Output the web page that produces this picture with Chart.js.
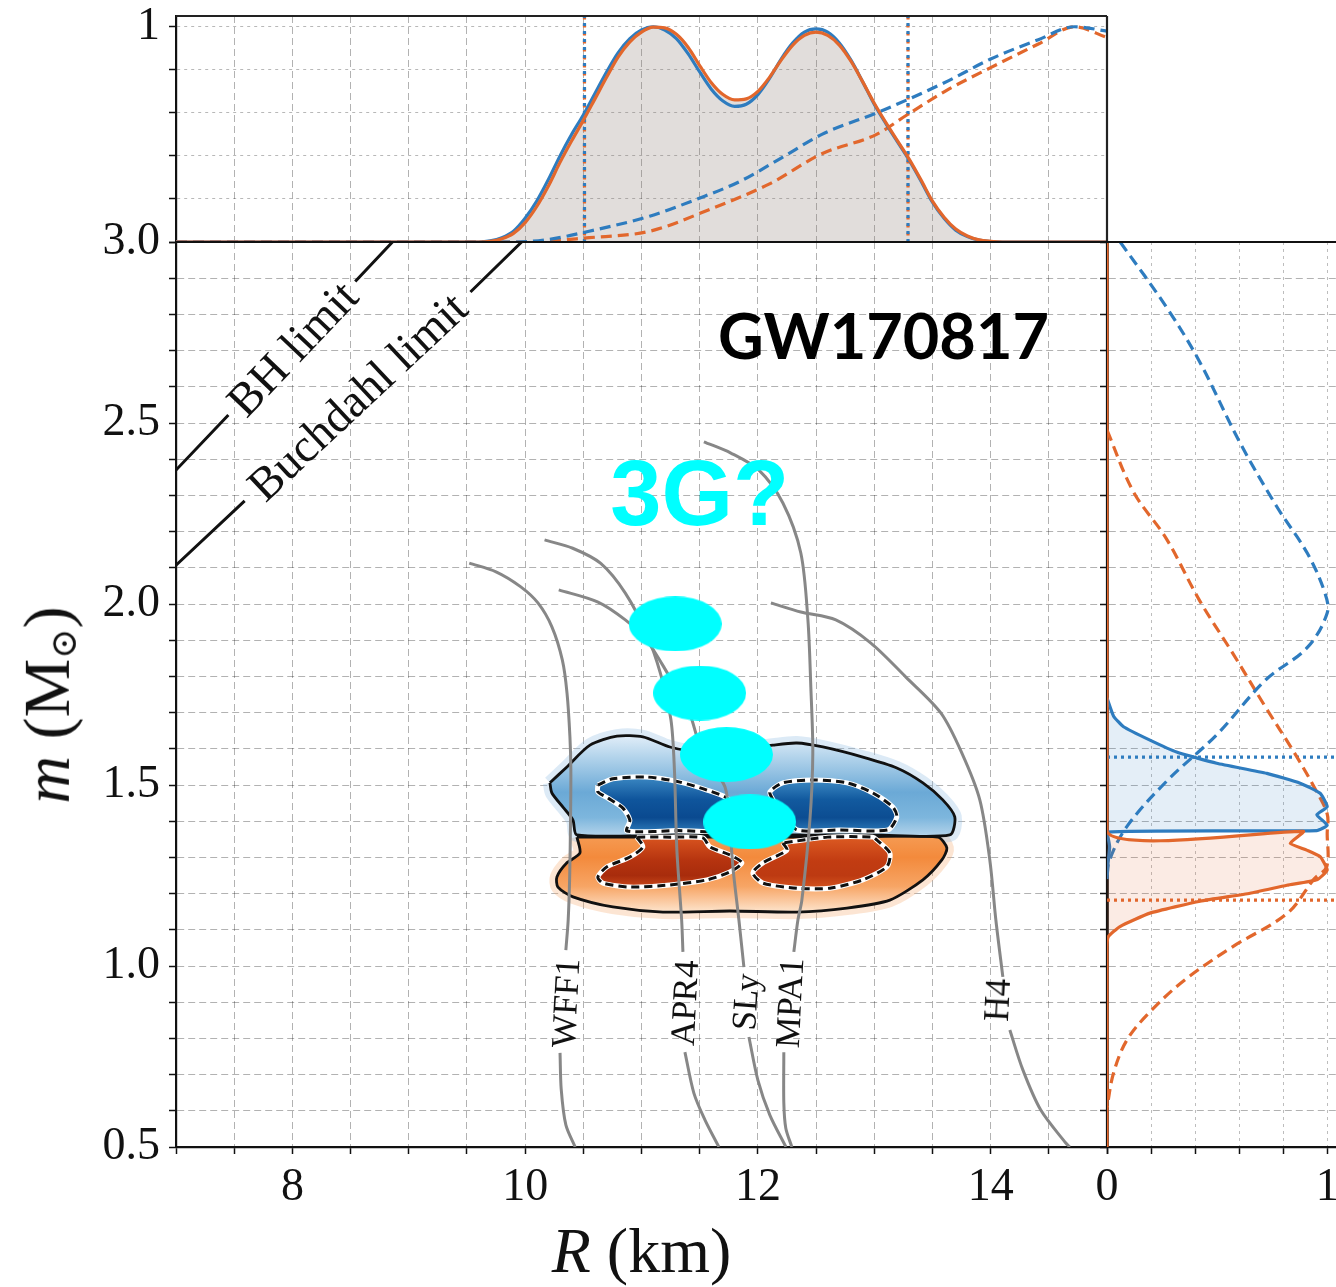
<!DOCTYPE html>
<html lang="en">
<head>
<meta charset="utf-8">
<title>GW170817 mass-radius</title>
<script src="https://cdn.jsdelivr.net/npm/chart.js@4.4.1/dist/chart.umd.min.js"></script>
<style>
  html, body { margin: 0; padding: 0; background: #fff; }
  #wrap { position: relative; width: 1336px; height: 1287px; overflow: hidden; background: #fff; }
  #wrap canvas { position: absolute; left: 0; top: 0; }
  .note { position: absolute; white-space: nowrap; line-height: 1; transform-origin: 50% 50%; color: #111; }
</style>
</head>
<body>
<div id="wrap">
  <canvas id="topPanel" width="1336" height="1287"></canvas>
  <canvas id="mainPanel" width="1336" height="1287"></canvas>
  <canvas id="sidePanel" width="1336" height="1287"></canvas>
</div>
<script>
// ---------- values ----------

// top panel: radius marginal, R in km, curves normalised to 1
var topR = [7.0, 9.6, 9.7, 9.8, 9.9, 10.0, 10.1, 10.2, 10.3, 10.4, 10.5, 10.6, 10.7, 10.8, 10.9,
  11.0, 11.1, 11.2, 11.3, 11.4, 11.5, 11.6, 11.7, 11.8, 11.9, 12.0, 12.1, 12.2, 12.3, 12.4,
  12.5, 12.6, 12.7, 12.8, 12.9, 13.0, 13.1, 13.2, 13.3, 13.4, 13.5, 13.6, 13.7, 13.8, 13.9,
  14.0, 14.1, 14.2, 15.0];
var topBlue = [0, 0, 0.005, 0.02, 0.05, 0.11, 0.19, 0.29, 0.40, 0.50, 0.59, 0.69, 0.79, 0.88, 0.945,
  0.985, 1.0, 0.985, 0.945, 0.875, 0.79, 0.71, 0.655, 0.63, 0.64, 0.685, 0.76, 0.85, 0.925, 0.975,
  0.99, 0.975, 0.925, 0.845, 0.745, 0.64, 0.55, 0.465, 0.38, 0.285, 0.185, 0.11, 0.055, 0.025, 0.009,
  0.002, 0, 0, 0];
var topOrange = [0, 0, 0.003, 0.015, 0.04, 0.09, 0.165, 0.26, 0.37, 0.47, 0.565, 0.665, 0.765, 0.86, 0.93,
  0.975, 0.998, 0.995, 0.965, 0.905, 0.82, 0.74, 0.685, 0.66, 0.665, 0.70, 0.765, 0.845, 0.915, 0.96,
  0.975, 0.96, 0.915, 0.84, 0.745, 0.645, 0.555, 0.47, 0.385, 0.29, 0.19, 0.115, 0.06, 0.028, 0.01,
  0.003, 0, 0, 0];
// dashed curves of the top panel, [R, value]
var topPriorBlue = [[7.0, 0], [9.9, 0], [10.2, 0.012], [10.55, 0.05], [11.07, 0.12], [11.48, 0.2],
  [11.84, 0.28], [12.2, 0.39], [12.55, 0.5], [13.02, 0.6], [13.28, 0.66], [13.64, 0.75],
  [14.0, 0.85], [14.41, 0.94], [14.72, 1.0], [15.0, 0.98]];
var topPriorOrange = [[7.0, 0], [10.0, 0], [10.55, 0.02], [11.07, 0.05], [11.58, 0.15], [12.1, 0.27],
  [12.55, 0.41], [13.02, 0.5], [13.28, 0.59], [13.64, 0.71], [14.0, 0.81], [14.41, 0.92],
  [14.72, 1.0], [15.0, 0.95]];
// dotted bounds in R
var topBounds = [10.51, 13.29];

// side panel: mass marginal, [value, m in solar masses]
var sideBlue = [[0, 1.74], [0.03, 1.69], [0.075, 1.661], [0.195, 1.624], [0.316, 1.591], [0.498, 1.56],
  [0.726, 1.532], [0.877, 1.505], [0.968, 1.477], [1.0, 1.44], [0.953, 1.418], [1.0, 1.389],
  [0.953, 1.374], [0, 1.37], [0.012, 1.33], [0.004, 1.28], [0, 1.24]];
var sideOrange = [[0, 3.0], [0, 1.372], [0.892, 1.372], [0.832, 1.339], [0.907, 1.32], [0.968, 1.302],
  [1.0, 1.265], [0.953, 1.238], [0.817, 1.223], [0.65, 1.201], [0.423, 1.179], [0.195, 1.146],
  [0.059, 1.109], [0.006, 1.081], [0, 1.05], [0, 0.5]];
var sidePriorBlue = [[0.06, 3.0], [0.27, 2.82], [0.42, 2.67], [0.6, 2.45], [0.77, 2.27], [0.91, 2.14],
  [0.99, 2.03], [1.0, 1.975], [0.91, 1.88], [0.72, 1.79], [0.5, 1.64], [0.27, 1.51], [0.09, 1.385],
  [0.01, 1.29], [0, 1.24]];
var sidePriorOrange = [[0, 2.48], [0.12, 2.31], [0.27, 2.18], [0.42, 2.01], [0.57, 1.865], [0.72, 1.715],
  [0.85, 1.59], [0.94, 1.495], [1.0, 1.42], [1.0, 1.367], [0.998, 1.275], [0.94, 1.24], [0.82, 1.146],
  [0.57, 1.053], [0.35, 0.96], [0.19, 0.87], [0.09, 0.795], [0.03, 0.705], [0, 0.61]];
var sideBoundBlue = 1.577;
var sideBoundOrange = 1.182;

// main panel: EOS mass-radius curves [R, m]; null leaves room for the name
var eosWFF1 = [[9.52, 2.113], [9.75, 2.089], [9.96, 2.048], [10.11, 2.003], [10.23, 1.937], [10.32, 1.845],
  [10.36, 1.754], [10.385, 1.633], [10.393, 1.541], [10.39, 1.40], [10.383, 1.25], [10.37, 1.127],
  [10.35, 1.044], null, [10.30, 0.76], [10.31, 0.66], [10.35, 0.561], [10.43, 0.5]];
var eosAPR4 = [[10.167, 2.177], [10.409, 2.154], [10.65, 2.112], [10.861, 2.03], [11.042, 1.919],
  [11.162, 1.809], [11.253, 1.68], [11.283, 1.541], [11.304, 1.32], [11.345, 1.127], [11.356, 1.039],
  null, [11.373, 0.762], [11.45, 0.649], [11.545, 0.575], [11.665, 0.5]];
var eosSLy = [[10.289, 2.039], [10.622, 2.006], [10.861, 1.956], [11.042, 1.901], [11.223, 1.809],
  [11.404, 1.707], [11.524, 1.588], [11.717, 1.495], [11.76, 1.376], [11.788, 1.265], [11.837, 1.127],
  [11.88, 0.997], null, [11.923, 0.804], [12.0, 0.685], [12.103, 0.588], [12.241, 0.5]];
var eosMPA1 = [[11.536, 2.448], [11.768, 2.417], [12.009, 2.37], [12.215, 2.279], [12.369, 2.141],
  [12.43, 1.956], [12.455, 1.771], [12.472, 1.588], [12.447, 1.403], [12.378, 1.182], [12.344, 1.127],
  [12.309, 1.039], null, [12.223, 0.762], [12.223, 0.622], [12.24, 0.552], [12.292, 0.5]];
var eosH4 = [[12.112, 2.003], [12.369, 1.978], [12.67, 1.956], [12.971, 1.892], [13.272, 1.798],
  [13.572, 1.699], [13.753, 1.588], [13.907, 1.459], [13.993, 1.293], [14.045, 1.127], [14.105, 0.97],
  null, [14.165, 0.823], [14.277, 0.713], [14.431, 0.602], [14.646, 0.511], [14.68, 0.5]];
var bhLimit = [[7.0, 2.370], [7.45, 2.522], null, [8.54, 2.891], [8.86, 3.0]];
var buchdahlLimit = [[7.0, 2.107], [7.59, 2.285], null, [9.53, 2.862], [9.97, 3.0]];

// posterior contours [R, m]
var blueOuter = [[10.213, 1.506], [10.359, 1.55], [10.557, 1.61], [10.789, 1.635], [11.012, 1.633],
  [11.244, 1.605], [11.502, 1.591], [11.845, 1.597], [12.129, 1.61], [12.335, 1.616], [12.558, 1.605],
  [12.902, 1.577], [13.194, 1.547], [13.418, 1.506], [13.589, 1.459], [13.692, 1.412], [13.649, 1.362],
  [13.0, 1.362], [12.0, 1.362], [11.2, 1.362], [10.445, 1.362], [10.411, 1.403], [10.325, 1.439],
  [10.23, 1.478]];
var blueInnerL = [[10.625, 1.5], [10.754, 1.517], [11.046, 1.522], [11.33, 1.508], [11.562, 1.486],
  [11.734, 1.464], [11.82, 1.431], [11.785, 1.376], [11.3, 1.374], [10.875, 1.373], [10.9, 1.403],
  [10.84, 1.436], [10.711, 1.464], [10.625, 1.481]];
var blueInnerR = [[12.129, 1.459], [12.103, 1.481], [12.215, 1.506], [12.472, 1.514], [12.765, 1.506],
  [12.988, 1.478], [13.16, 1.439], [13.194, 1.412], [13.117, 1.376], [12.7, 1.376], [12.335, 1.376],
  [12.215, 1.423]];
var orangeOuter = [[10.445, 1.356], [10.471, 1.312], [10.359, 1.285], [10.273, 1.246], [10.282, 1.218],
  [10.411, 1.191], [10.754, 1.163], [11.184, 1.149], [11.759, 1.152], [12.335, 1.149], [12.765, 1.16],
  [13.134, 1.182], [13.418, 1.238], [13.581, 1.293], [13.624, 1.326], [13.546, 1.356], [12.8, 1.356],
  [12.0, 1.356], [11.2, 1.356]];
var orangeInnerL = [[10.96, 1.356], [11.012, 1.329], [10.9, 1.301], [10.703, 1.274], [10.625, 1.246],
  [10.668, 1.229], [10.9, 1.218], [11.244, 1.224], [11.562, 1.238], [11.759, 1.26], [11.863, 1.285],
  [11.759, 1.307], [11.588, 1.329], [11.527, 1.354], [11.25, 1.356]];
var orangeInnerR = [[12.215, 1.34], [12.249, 1.32], [12.043, 1.285], [11.957, 1.257], [12.043, 1.229],
  [12.335, 1.215], [12.619, 1.215], [12.902, 1.238], [13.108, 1.274], [13.134, 1.312], [13.022, 1.348],
  [12.988, 1.356], [12.6, 1.356]];

// cyan markers
var markerR = [11.29, 11.50, 11.73, 11.93];
var markerM = [1.945, 1.754, 1.584, 1.398];

// labelled ticks
var rTickLabels = [8, 10, 12, 14];
var topTickLabels = [1];
var sideTickLabels = [0, 1];

// ---------- styling ----------
var serif = "'Liberation Serif', 'DejaVu Serif', serif";
var ink = '#111111';
var blue = '#2e7cbf';
var orange = '#e2672c';
var eosGrey = '#878787';
var tickFont = { family: serif, size: 46 };
var gridCol = 'rgba(0,0,0,0.3)';
var lw = 3.2;

Chart.defaults.font.family = serif;
Chart.defaults.color = ink;

function xy(list) {
  return list.map(function (p, i) {
    if (p === null) return { x: list[i - 1][0], y: null };
    return { x: p[0], y: p[1] };
  });
}
function ring(list) { return xy(list.concat([list[0]])); }
function isIn(labels) {
  return function (v) {
    for (var i = 0; i < labels.length; i++) if (Math.abs(v - labels[i]) < 1e-6) return String(labels[i]);
    return '';
  };
}
function fixAxis(size, horizontal) {
  return function (s) {
    if (horizontal) { s.height = size; s.paddingLeft = 0; s.paddingRight = 0; }
    else { s.width = size; s.paddingTop = 0; s.paddingBottom = 0; }
  };
}
function verticalGradient(stops) {
  return function (context) {
    var chart = context.chart;
    if (!chart.chartArea) return stops[0][1];
    var sy = chart.scales.y;
    var y0 = sy.getPixelForValue(stops[0][0]);
    var y1 = sy.getPixelForValue(stops[stops.length - 1][0]);
    var g = chart.ctx.createLinearGradient(0, y0, 0, y1);
    stops.forEach(function (s) {
      var t = (sy.getPixelForValue(s[0]) - y0) / (y1 - y0);
      g.addColorStop(Math.min(1, Math.max(0, t)), s[1]);
    });
    return g;
  };
}
function line(data, color, width, dash, order, extra) {
  var ds = { data: data, borderColor: color, borderWidth: width, borderDash: dash || [],
    pointRadius: 0, fill: false, tension: 0.3, order: order };
  return Object.assign(ds, extra || {});
}
function ellipseCanvas(w, h, color) {
  var c = document.createElement('canvas');
  c.width = w; c.height = h;
  var g = c.getContext('2d');
  g.fillStyle = color;
  g.beginPath();
  g.ellipse(w / 2, h / 2, w / 2, h / 2, 0, 0, Math.PI * 2);
  g.fill();
  return c;
}

// frame lines on the chart area edges not covered by an axis
var framePlugin = {
  id: 'frame',
  afterDraw: function (chart, args, opts) {
    var a = chart.chartArea, ctx = chart.ctx;
    ctx.save();
    ctx.strokeStyle = opts.color || ink;
    ctx.lineWidth = opts.width || 2.2;
    ctx.beginPath();
    if (opts.top) { ctx.moveTo(a.left, a.top); ctx.lineTo(a.right, a.top); }
    if (opts.right) { ctx.moveTo(a.right, a.top); ctx.lineTo(a.right, a.bottom); }
    ctx.stroke();
    ctx.restore();
  }
};

var baseOptions = {
  responsive: false,
  animation: false,
  events: [],
  plugins: { legend: { display: false }, tooltip: { enabled: false } }
};

// ---------- top panel ----------
var topSets = [
  line(topR.map(function (r, i) { return { x: r, y: topOrange[i] }; }), 'rgba(0,0,0,0)', 0, [], 9,
    { fill: 'origin', backgroundColor: 'rgba(140,125,115,0.26)', cubicInterpolationMode: 'monotone' }),
  line(topR.map(function (r, i) { return { x: r, y: topBlue[i] }; }), blue, lw, [], 3,
    { cubicInterpolationMode: 'monotone' }),
  line(topR.map(function (r, i) { return { x: r, y: topOrange[i] }; }), orange, lw, [], 2,
    { cubicInterpolationMode: 'monotone' }),
  line(xy(topPriorBlue), blue, lw, [11, 6], 4, { cubicInterpolationMode: 'monotone' }),
  line(xy(topPriorOrange), orange, lw, [11, 6], 4, { cubicInterpolationMode: 'monotone' })
];
topBounds.forEach(function (r) {
  topSets.push(line([{ x: r, y: 0 }, { x: r, y: 1.05 }], blue, lw, [3, 5], 5, { tension: 0 }));
  topSets.push(line([{ x: r, y: 0 }, { x: r, y: 1.05 }], orange, lw, [3, 5], 5, { tension: 0, borderDashOffset: 1.5 }));
});

var topChart = new Chart(document.getElementById('topPanel'), {
  type: 'line',
  data: { datasets: topSets },
  options: Object.assign({}, baseOptions, {
    layout: { padding: { left: 0, top: 16, right: 229, bottom: 1045 } },
    plugins: Object.assign({}, baseOptions.plugins, { frame: { top: true, right: true, color: '#222' } }),
    scales: {
      x: {
        type: 'linear', min: 7, max: 15,
        afterFit: fixAxis(0, true),
        ticks: { display: false, stepSize: 0.5, autoSkip: false },
        grid: { color: gridCol, drawTicks: false },
        border: { display: false, dash: [7, 4] }
      },
      y: {
        type: 'linear', min: 0, max: 1.05,
        afterFit: fixAxis(176, false),
        ticks: { stepSize: 0.2, includeBounds: false, autoSkip: false, padding: 9, font: tickFont,
          color: ink, callback: isIn(topTickLabels) },
        grid: { color: 'rgba(0,0,0,0.28)', tickLength: 7, tickColor: ink, tickWidth: 1.5 },
        border: { color: ink, width: 2.2, dash: [3, 4] }
      }
    }
  }),
  plugins: [framePlugin]
});

// ---------- main panel ----------
var markerImg = ellipseCanvas(93, 55, '#00ffff');
var mainSets = [
  line(ring(blueOuter), 'rgba(140,185,225,0.3)', 14, [], 20),
  line(ring(orangeOuter), 'rgba(246,170,110,0.3)', 14, [], 20),
  line(ring(blueOuter), ink, 2.8, [], 19, { fill: 'shape', tension: 0.25, backgroundColor: verticalGradient([
    [1.64, '#e4eff9'], [1.58, '#b5d5ec'], [1.48, '#6ba9d6'], [1.41, '#7db6dd'], [1.36, '#b3d3ea']]) }),
  line(ring(orangeOuter), ink, 2.8, [], 19, { fill: 'shape', tension: 0.25, backgroundColor: verticalGradient([
    [1.357, '#f59a52'], [1.30, '#f38a3c'], [1.22, '#f7a565'], [1.15, '#fde3cb']]) })
];
[[blueInnerL, [[1.525, '#3d8ac4'], [1.46, '#0f559c'], [1.41, '#0a4a90'], [1.37, '#2c79b8']]],
 [blueInnerR, [[1.515, '#3d8ac4'], [1.46, '#125a9f'], [1.41, '#0c4d92'], [1.37, '#2c79b8']]],
 [orangeInnerL, [[1.356, '#d8541f'], [1.29, '#b5330f'], [1.25, '#a82c0c'], [1.215, '#cc4a1c']]],
 [orangeInnerR, [[1.356, '#dc5a22'], [1.29, '#c23c12'], [1.25, '#bd3a12'], [1.215, '#d4531e']]]
].forEach(function (c) {
  mainSets.push(line(ring(c[0]), '#ffffff', 5, [], 18,
    { fill: 'shape', tension: 0.25, backgroundColor: verticalGradient(c[1]) }));
  mainSets.push(line(ring(c[0]), ink, 3, [8, 5], 17, { tension: 0.25 }));
});
[eosWFF1, eosAPR4, eosSLy, eosMPA1, eosH4].forEach(function (c) {
  mainSets.push(line(xy(c), eosGrey, 3, [], 10));
});
mainSets.push(line(xy(bhLimit), ink, 3, [], 10, { tension: 0 }));
mainSets.push(line(xy(buchdahlLimit), ink, 3, [], 10, { tension: 0 }));
mainSets.push({
  data: markerR.map(function (r, i) { return { x: r, y: markerM[i] }; }),
  showLine: false, pointStyle: markerImg, pointRadius: 12, order: 0
});

var mainChart = new Chart(document.getElementById('mainPanel'), {
  type: 'line',
  data: { datasets: mainSets },
  options: Object.assign({}, baseOptions, {
    layout: { padding: { left: 0, top: 242, right: 229, bottom: 0 } },
    plugins: Object.assign({}, baseOptions.plugins, { frame: { top: true, right: true } }),
    scales: {
      x: {
        type: 'linear', min: 7, max: 15,
        afterFit: fixAxis(140, true),
        ticks: { stepSize: 0.5, autoSkip: false, maxRotation: 0, minRotation: 0, padding: 6,
          font: tickFont, color: ink, callback: isIn(rTickLabels) },
        grid: { color: gridCol, tickLength: 7, tickColor: ink, tickWidth: 1.5 },
        border: { color: ink, width: 2.2, dash: [7, 4] }
      },
      y: {
        type: 'linear', min: 0.5, max: 3.0,
        afterFit: fixAxis(176, false),
        ticks: { stepSize: 0.1, autoSkip: false, padding: 9, font: tickFont, color: ink,
          callback: function (v) { return Math.abs(v * 2 - Math.round(v * 2)) < 1e-6 ? v.toFixed(1) : ''; } },
        grid: { color: gridCol, tickLength: 7, tickColor: ink, tickWidth: 1.5 },
        border: { color: ink, width: 2.2, dash: [7, 4] }
      }
    }
  }),
  plugins: [framePlugin]
});

// ---------- side panel ----------
var sideSets = [
  line(xy(sideBlue), blue, lw, [], 3, { fill: 'shape', backgroundColor: 'rgba(46,124,191,0.13)', tension: 0.15 }),
  line(xy(sideOrange), orange, lw, [], 2, { fill: 'shape', backgroundColor: 'rgba(226,103,44,0.13)', tension: 0.15 }),
  line(xy(sidePriorBlue), blue, lw, [11, 6], 4, { tension: 0.35 }),
  line(xy(sidePriorOrange), orange, lw, [11, 6], 4, { tension: 0.35 }),
  line([{ x: 0, y: sideBoundBlue }, { x: 1.04, y: sideBoundBlue }], blue, lw, [3, 4], 5, { tension: 0 }),
  line([{ x: 0, y: sideBoundOrange }, { x: 1.04, y: sideBoundOrange }], orange, lw, [3, 4], 5, { tension: 0 })
];

var sideChart = new Chart(document.getElementById('sidePanel'), {
  type: 'line',
  data: { datasets: sideSets },
  options: Object.assign({}, baseOptions, {
    layout: { padding: { left: 1107, top: 242, right: 0, bottom: 0 } },
    plugins: Object.assign({}, baseOptions.plugins, { frame: { top: true } }),
    scales: {
      x: {
        type: 'linear', min: 0, max: 1.04,
        afterFit: fixAxis(140, true),
        ticks: { stepSize: 0.2, includeBounds: false, autoSkip: false, maxRotation: 0, minRotation: 0,
          padding: 6, font: tickFont, color: ink, callback: isIn(sideTickLabels) },
        grid: { color: 'rgba(0,0,0,0.26)', tickLength: 7, tickColor: ink, tickWidth: 1.5 },
        border: { color: ink, width: 2.2, dash: [3, 4] }
      },
      y: {
        type: 'linear', min: 0.5, max: 3.0,
        afterFit: fixAxis(0, false),
        ticks: { display: false, stepSize: 0.1, autoSkip: false },
        grid: { color: gridCol, tickLength: 7, tickColor: ink, tickWidth: 1.5 },
        border: { color: ink, width: 2.8, dash: [7, 4] }
      }
    }
  }),
  plugins: [framePlugin]
});

// ---------- text placed through the main panel's scales ----------
var wrap = document.getElementById('wrap');
function addNote(html, px, py, angle, font, color) {
  var d = document.createElement('div');
  d.className = 'note';
  d.innerHTML = html;
  d.style.font = font;
  if (color) d.style.color = color;
  d.style.left = px + 'px';
  d.style.top = py + 'px';
  d.style.transform = 'translate(-50%, -50%) rotate(' + angle + 'deg)';
  wrap.appendChild(d);
}
var notes = [
  { text: 'GW170817', R: 13.08, m: 2.746, angle: 0, font: "700 63px Lato, 'Open Sans', sans-serif", color: '#000' },
  { text: '3G?', R: 11.50, m: 2.307, angle: 0, font: "700 92px 'Liberation Sans', Arial, sans-serif", color: '#00ffff' },
  { text: 'BH limit', R: 8.0, m: 2.708, angle: -46.5, font: '47px ' + serif },
  { text: 'Buchdahl limit', R: 8.555, m: 2.575, angle: -43.1, font: '47px ' + serif },
  { text: 'WFF1', R: 10.35, m: 0.898, angle: -87, font: '35px ' + serif },
  { text: 'APR4', R: 11.373, m: 0.898, angle: -87, font: '35px ' + serif },
  { text: 'SLy', R: 11.897, m: 0.901, angle: -86, font: '35px ' + serif },
  { text: 'MPA1', R: 12.275, m: 0.898, angle: -87, font: '35px ' + serif },
  { text: 'H4', R: 14.062, m: 0.906, angle: -87, font: '35px ' + serif }
];
var sx = mainChart.scales.x, sy = mainChart.scales.y;
notes.forEach(function (n) {
  addNote(n.text, sx.getPixelForValue(n.R), sy.getPixelForValue(n.m), n.angle, n.font, n.color);
});
var area = mainChart.chartArea;
addNote('<i>R</i> (km)', (area.left + area.right) / 2, area.bottom + 104, 0, '64px ' + serif);
addNote('<i>m</i> (M<sub style="font-size:55%;vertical-align:-0.2em">⊙</sub>)', area.left - 129,
  (area.top + area.bottom) / 2 + 10, -90, '66px ' + serif);
</script>
</body>
</html>
